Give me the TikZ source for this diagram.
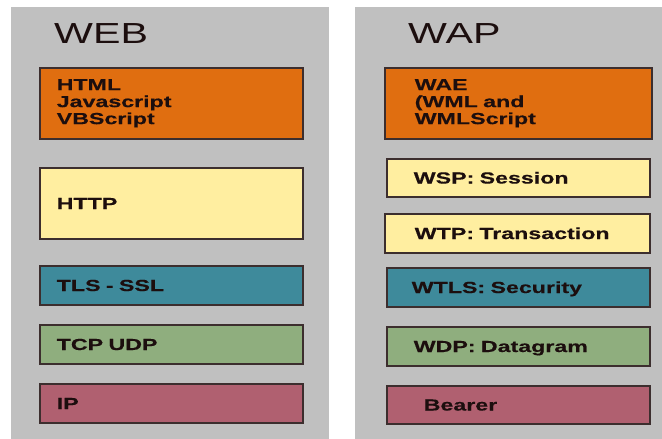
\documentclass[tikz,border=0pt]{standalone}
\usepackage{fontspec}
\newfontfamily\layerfont{Liberation Sans}[FakeStretch=1.45, BoldFeatures={FakeBold=0.4}]
\newfontfamily\titlefont{Liberation Sans}[FakeStretch=1.42]
\definecolor{panelgray}{RGB}{192,192,192}
\definecolor{layerline}{RGB}{60,46,46}
\definecolor{layertext}{RGB}{28,14,14}
\definecolor{appcol}{RGB}{224,110,16}
\definecolor{sescol}{RGB}{255,238,160}
\definecolor{seccol}{RGB}{62,138,155}
\definecolor{tracol}{RGB}{143,174,126}
\definecolor{netcol}{RGB}{176,96,112}

\begin{document}
\begin{tikzpicture}[x=1pt, y=-1pt,
	layer/.style={draw=layerline, line width=1.5pt, anchor=north west, align=left, text=layertext, font=\layerfont\bfseries\fontsize{16}{17}\selectfont},
	oneline/.style={layer, text height=11.5pt, text depth=0pt},
	stacktitle/.style={anchor=base west, inner sep=0pt, text=layertext, font=\titlefont\fontsize{29}{30}\selectfont}]
		%%%%% START %%%%%
		\useasboundingbox[fill=white] (0, 0) rectangle (662, 439);
		
		\fill[panelgray] (11, 7) rectangle (329, 446);
		\fill[panelgray] (355, 7) rectangle (668, 446);
		
		\node[stacktitle] (web) at (54, 43) {WEB};
		\node[stacktitle] (wap) at (408, 43) {WAP};
		
		% web stack
		\node[layer, fill=appcol, minimum height=71pt, inner xsep=17pt, text width=229pt] (html) at (39, 67) {HTML\\Javascript\\VBScript};
		\node[oneline, fill=sescol, minimum height=71pt, inner xsep=17pt, text width=229pt] (http) at (39, 167) {HTTP};
		\node[oneline, fill=seccol, minimum height=39pt, inner xsep=17pt, text width=229pt] (tls) at (39, 265) {TLS - SSL};
		\node[oneline, fill=tracol, minimum height=39pt, inner xsep=17pt, text width=229pt] (tcp) at (39, 324) {TCP UDP};
		\node[oneline, fill=netcol, minimum height=39pt, inner xsep=17pt, text width=229pt] (ip) at (39, 383) {IP};
		
		% wap stack
		\node[layer, fill=appcol, minimum height=71pt, inner xsep=30pt, text width=207pt] (wae) at (384, 67) {WAE\\(WML and\\WMLScript};
		\node[oneline, fill=sescol, minimum height=38pt, inner xsep=27pt, text width=209pt] (wsp) at (386, 158) {WSP: Session};
		\node[oneline, fill=sescol, minimum height=39pt, inner xsep=30pt, text width=205pt] (wtp) at (384, 213) {WTP: Transaction};
		\node[oneline, fill=seccol, minimum height=39pt, inner xsep=25pt, text width=213pt] (wtls) at (386, 267) {WTLS: Security};
		\node[oneline, fill=tracol, minimum height=39pt, inner xsep=27pt, text width=209pt] (wdp) at (386, 326) {WDP: Datagram};
		\node[oneline, fill=netcol, minimum height=38pt, inner xsep=37pt, text width=189pt] (bearer) at (386, 385) {Bearer};
		%%%%% END %%%%%
\end{tikzpicture}
\end{document}
